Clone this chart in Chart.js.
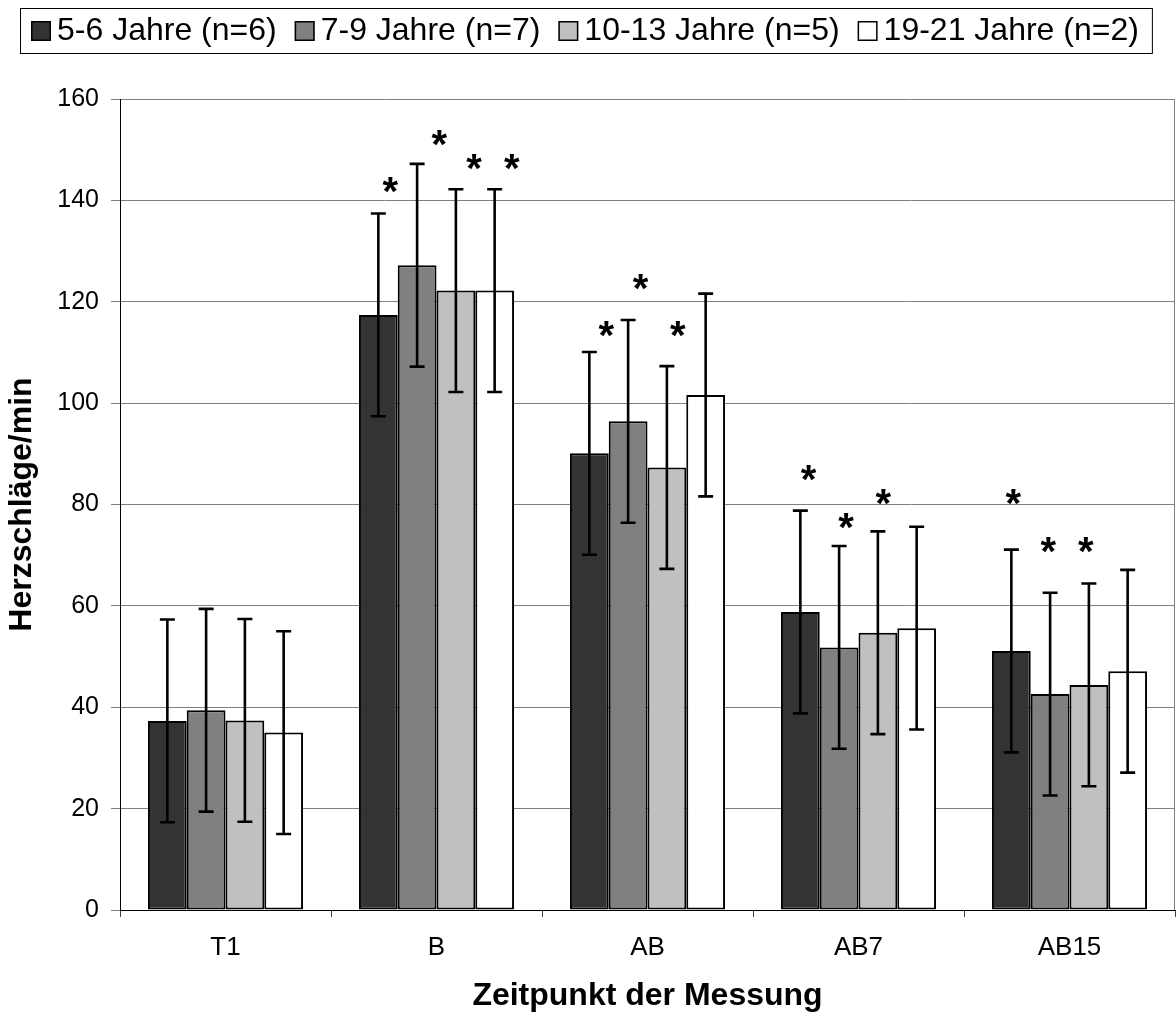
<!DOCTYPE html>
<html>
<head>
<meta charset="utf-8">
<script src="https://cdn.jsdelivr.net/npm/chart.js@4.4.0/dist/chart.umd.min.js"></script>
<style>
  html, body { margin: 0; padding: 0; background: #fff; }
</style>
</head>
<body>
<canvas id="herzChart" width="1176" height="1017"></canvas>
<script>
const zeitpunkte = ['T1', 'B', 'AB', 'AB7', 'AB15'];
const gruppen = ['5-6 Jahre (n=6)', '7-9 Jahre (n=7)', '10-13 Jahre (n=5)', '19-21 Jahre (n=2)'];

// Mittelwerte (Herzschläge/min)
const mw5bis6 = [37.3, 117.4, 90.1, 58.8, 51.1];
const mw7bis9 = [39.4, 127.2, 96.4, 51.8, 42.6];
const mw10bis13 = [37.4, 122.2, 87.3, 54.7, 44.4];
const mw19bis21 = [35.0, 122.2, 101.6, 55.6, 47.1];

// Standardabweichungen
const sd5bis6 = [20, 20, 20, 20, 20];
const sd7bis9 = [20, 20, 20, 20, 20];
const sd10bis13 = [20, 20, 20, 20, 20];
const sd19bis21 = [20, 20, 20, 20, 20];

// Höhe der Signifikanz-Sterne (y-Wert), null = kein Stern
const stern5bis6 = [null, 143.0, 114.6, 86.2, 81.5];
const stern7bis9 = [null, 152.4, 123.9, 76.7, 72.0];
const stern10bis13 = [null, 147.6, 114.6, 81.5, 72.0];
const stern19bis21 = [null, 147.6, null, null, null];

const yTicks = [0, 20, 40, 60, 80, 100, 120, 140, 160];

// seitlicher Versatz der Sterne, in Balkenbreiten
const sternVersatz = [
  [0, 0.31, 0.44, 0.21, 0.05],
  [0, 0.57, 0.32, 0.18, -0.05],
  [0, 0.47, 0.28, 0.14, -0.08],
  [0, 0.44, 0, 0, 0]
];

const farben = ['#333333', '#808080', '#c0c0c0', '#ffffff'];
const FONT = '"Liberation Sans", Arial, Helvetica, sans-serif';
Chart.defaults.font.family = FONT;
Chart.defaults.color = '#000';

const mittelwerte = [mw5bis6, mw7bis9, mw10bis13, mw19bis21];
const sds = [sd5bis6, sd7bis9, sd10bis13, sd19bis21];
const sterne = [stern5bis6, stern7bis9, stern10bis13, stern19bis21];

const datasets = gruppen.map((g, i) => ({
  label: g,
  data: mittelwerte[i],
  sd: sds[i],
  stern: sterne[i],
  backgroundColor: farben[i],
  borderColor: '#000',
  borderWidth: 2,
  borderSkipped: false,
  categoryPercentage: 0.735,
  barPercentage: 1.0
}));

// Legende im Rahmen oben
const legende = {
  id: 'legende',
  afterDraw(chart) {
    const ctx = chart.ctx;
    ctx.save();
    ctx.font = '32px ' + FONT;
    const box = 20, gapText = 6, gapItem = 18, padL = 11, padR = 13;
    const left = 20, top = 8, h = 45;
    const ds = chart.data.datasets;
    const widths = ds.map(d => ctx.measureText(d.label).width);
    const total = padL + padR + widths.reduce((a, b) => a + b, 0) + ds.length * (box + gapText) + (ds.length - 1) * gapItem;
    ctx.strokeStyle = '#000';
    ctx.lineWidth = 1;
    ctx.strokeRect(left + 0.5, top + 0.5, total, h);
    const cy = top + h / 2 + 0.5;
    let x = left + padL;
    ds.forEach((d, i) => {
      ctx.fillStyle = d.backgroundColor;
      ctx.fillRect(x, cy - box / 2, box, box);
      ctx.lineWidth = 1.5;
      ctx.strokeRect(x + 0.75, cy - box / 2 + 0.75, box - 1.5, box - 1.5);
      x += box + gapText;
      ctx.fillStyle = '#000';
      ctx.textBaseline = 'middle';
      ctx.textAlign = 'left';
      ctx.fillText(d.label, x, cy);
      x += widths[i] + gapItem;
    });
    ctx.restore();
  }
};

// rechter Rand der Zeichenfläche
const rand = {
  id: 'rand',
  beforeDatasetsDraw(chart) {
    const {ctx, chartArea} = chart;
    ctx.save();
    ctx.strokeStyle = '#808080';
    ctx.lineWidth = 1;
    ctx.beginPath();
    ctx.moveTo(chartArea.right - 0.5, chartArea.top);
    ctx.lineTo(chartArea.right - 0.5, chartArea.bottom);
    ctx.stroke();
    ctx.restore();
  }
};

// Fehlerbalken und Sterne
const fehlerbalken = {
  id: 'fehlerbalken',
  afterDatasetsDraw(chart) {
    const ctx = chart.ctx;
    const yScale = chart.scales.y;
    ctx.save();
    chart.data.datasets.forEach((ds, i) => {
      const meta = chart.getDatasetMeta(i);
      meta.data.forEach((bar, j) => {
        const v = ds.data[j], e = ds.sd[j];
        const yTop = yScale.getPixelForValue(v + e);
        const yBot = yScale.getPixelForValue(v - e);
        ctx.strokeStyle = '#000';
        ctx.lineWidth = 2.6;
        ctx.beginPath();
        ctx.moveTo(bar.x, yTop);
        ctx.lineTo(bar.x, yBot);
        ctx.moveTo(bar.x - 7.5, yTop);
        ctx.lineTo(bar.x + 7.5, yTop);
        ctx.moveTo(bar.x - 7.5, yBot);
        ctx.lineTo(bar.x + 7.5, yBot);
        ctx.stroke();

        const s = ds.stern[j];
        if (s != null) {
          ctx.font = 'bold 40px ' + FONT;
          ctx.fillStyle = '#000';
          ctx.textAlign = 'center';
          ctx.textBaseline = 'alphabetic';
          const m = ctx.measureText('*');
          const cy = yScale.getPixelForValue(s);
          const base = cy + (m.actualBoundingBoxAscent - m.actualBoundingBoxDescent) / 2;
          ctx.fillText('*', bar.x + sternVersatz[i][j] * bar.width, base);
        }
      });
    });
    ctx.restore();
  }
};

const ctx = document.getElementById('herzChart').getContext('2d');
const herzChart = new Chart(ctx, {
  type: 'bar',
  data: { labels: zeitpunkte, datasets: datasets },
  options: {
    responsive: false,
    animation: false,
    layout: { padding: { top: 99, right: 1, bottom: 0, left: 0 } },
    plugins: {
      legend: { display: false },
      tooltip: { enabled: false }
    },
    scales: {
      x: {
        grid: { offset: true, drawOnChartArea: false, drawTicks: true, tickLength: 7, color: '#404040', lineWidth: 1 },
        border: { color: '#000', width: 1 },
        ticks: { font: { size: 26 }, color: '#000', padding: 15 },
        title: {
          display: true,
          text: 'Zeitpunkt der Messung',
          font: { size: 32, weight: 'bold' },
          color: '#000',
          padding: { top: 0, bottom: 2 }
        },
        afterFit: s => { s.height = 107; }
      },
      y: {
        min: 0,
        max: 160,
        afterBuildTicks: s => { s.ticks = yTicks.map(v => ({ value: v })); },
        grid: { color: '#808080', lineWidth: 1, tickLength: 9, drawTicks: true },
        border: { color: '#000', width: 1 },
        ticks: { font: { size: 25 }, color: '#000', padding: 12 },
        title: {
          display: true,
          text: 'Herzschläge/min',
          font: { size: 32, weight: 'bold' },
          color: '#000',
          padding: { top: 3, bottom: 0 }
        },
        afterFit: s => { s.width = 120; }
      }
    }
  },
  plugins: [rand, fehlerbalken, legende]
});
</script>
</body>
</html>
